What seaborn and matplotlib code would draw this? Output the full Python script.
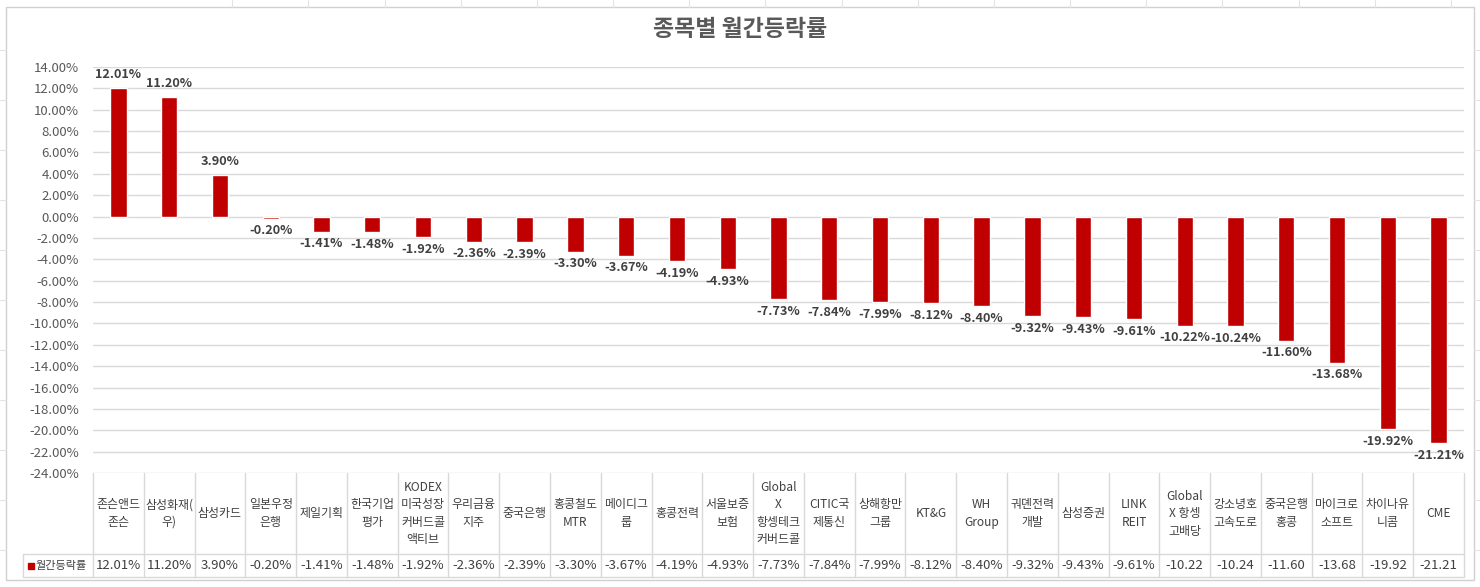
import numpy as np
import pandas as pd
import matplotlib
matplotlib.use("Agg")
import matplotlib.pyplot as plt
import seaborn as sns
from matplotlib.patches import Rectangle
from matplotlib.lines import Line2D

# ---------------- data ----------------
categories = ["존슨앤드\n존슨", "삼성화재(\n우)", "삼성카드", "일본우정\n은행", "제일기획",
              "한국기업\n평가", "KODEX\n미국성장\n커버드콜\n액티브", "우리금융\n지주", "중국은행",
              "홍콩철도\nMTR", "메이디그\n룹", "홍콩전력", "서울보증\n보험",
              "Global\nX\n항셍테크\n커버드콜", "CITIC국\n제통신", "상해항만\n그룹", "KT&G",
              "WH\nGroup", "궈뎬전력\n개발", "삼성증권", "LINK\nREIT", "Global\nX 항셍\n고배당",
              "강소녕호\n고속도로", "중국은행\n홍콩", "마이크로\n소프트", "차이나유\n니콤", "CME"]
values = [12.01, 11.20, 3.90, -0.20, -1.41, -1.48, -1.92, -2.36, -2.39, -3.30, -3.67, -4.19,
          -4.93, -7.73, -7.84, -7.99, -8.12, -8.40, -9.32, -9.43, -9.61, -10.22, -10.24,
          -11.60, -13.68, -19.92, -21.21]
table_labels = ["12.01%", "11.20%", "3.90%", "-0.20%", "-1.41%", "-1.48%", "-1.92%", "-2.36%",
                "-2.39%", "-3.30%", "-3.67%", "-4.19%", "-4.93%", "-7.73%", "-7.84%", "-7.99%",
                "-8.12%", "-8.40%", "-9.32%", "-9.43%", "-9.61%", "-10.22", "-10.24", "-11.60",
                "-13.68", "-19.92", "-21.21"]
series_name = "월간등락률"
title = "종목별 월간등락률"
y_ticks = list(range(-24, 15, 2))

# ---------------- style ----------------
sns.set_theme(style="white")
FONT = ["Noto Sans CJK KR", "DejaVu Sans"]
plt.rcParams["font.family"] = FONT

W, H = 1480, 587
fig = plt.figure(figsize=(W / 100, H / 100), dpi=100)
fig.patch.set_facecolor("white")

def fx(px):
    return px / W

def fy(py):
    return 1 - py / H

# spreadsheet-like background lines outside the chart frame
for xp in [232, 308, 385, 461, 537, 613, 689, 765, 842, 918, 994, 1070, 1146, 1222, 1299, 1375, 1451]:
    fig.add_artist(Line2D([fx(xp), fx(xp)], [fy(0), fy(7)], color="#e3e3e3", lw=0.8))
for yp in [50, 100, 150, 200, 250, 300, 350, 400, 450, 500, 550]:
    fig.add_artist(Line2D([fx(0), fx(6)], [fy(yp), fy(yp)], color="#e3e3e3", lw=0.8))
    fig.add_artist(Line2D([fx(1474), fx(1480)], [fy(yp), fy(yp)], color="#e3e3e3", lw=0.8))
# chart frame
fig.add_artist(Rectangle((fx(6), fy(580)), fx(1474) - fx(6), fy(7) - fy(580),
                         fill=False, edgecolor="#d0d0d0", lw=1.0))

# ---------------- main plot ----------------
L, R, T, B = 93, 1464, 67, 473
ax = fig.add_axes([fx(L), fy(B), fx(R) - fx(L), fy(T) - fy(B)])
df = pd.DataFrame({"cat": categories, "val": values})
sns.barplot(data=df, x="cat", y="val", color="#C00000", saturation=1, width=0.32, ax=ax)
ax.set_xlim(-0.5, len(categories) - 0.5)
ax.set_ylim(-24, 14)
ax.set_yticks(y_ticks)
ax.set_yticklabels([f"{t:.2f}%" for t in y_ticks], fontsize=9.5, color="#595959")
ax.tick_params(axis="y", length=0, pad=10)
ax.set_xticks([])
ax.set_xlabel("")
ax.set_ylabel("")
ax.grid(axis="y", color="#d9d9d9", lw=1)
ax.set_axisbelow(True)
for s in ax.spines.values():
    s.set_visible(False)

for i, v in enumerate(values):
    if v >= 0:
        ax.annotate(f"{v:.2f}%", (i, v), xytext=(0, 5), textcoords="offset points",
                    ha="center", va="bottom", fontsize=9.2, fontweight="bold", color="#404040")
    else:
        ax.annotate(f"{v:.2f}%", (i, v), xytext=(0, -4), textcoords="offset points",
                    ha="center", va="top", fontsize=9.2, fontweight="bold", color="#404040")

fig.text(fx(740), fy(30), title, ha="center", va="center", fontsize=16.5,
         fontweight="heavy", color="#595959")

# ---------------- data table ----------------
TB = 578
ax_t = fig.add_axes([fx(L), fy(TB), fx(R) - fx(L), fy(B) - fy(TB)])
n = len(categories)
ax_t.set_xlim(-0.5, n - 0.5)
ax_t.set_ylim(TB, B)
ax_t.axis("off")
per_px = n / (R - L)
leg_left = -0.5 - (L - 23) * per_px
lc = "#d9d9d9"
row_split = 554
row_bot = 577
for k in range(n + 1):
    ax_t.plot([k - 0.5, k - 0.5], [B, row_bot], color=lc, lw=1, clip_on=False)
ax_t.plot([leg_left, leg_left], [row_split, row_bot], color=lc, lw=1, clip_on=False)
ax_t.plot([leg_left, n - 0.5], [row_split, row_split], color=lc, lw=1, clip_on=False)
ax_t.plot([leg_left, n - 0.5], [row_bot, row_bot], color=lc, lw=1, clip_on=False)

for i, (c, lab) in enumerate(zip(categories, table_labels)):
    ax_t.text(i, (B + row_split) / 2, c, ha="center", va="center", fontsize=8.6,
              color="#404040", linespacing=1.45, clip_on=False)
    ax_t.text(i, (row_split + row_bot) / 2, lab, ha="center", va="center", fontsize=9.5,
              color="#404040", clip_on=False)

sq_x = -0.5 - (L - 30.5) * per_px
ax_t.plot([sq_x], [(row_split + row_bot) / 2], marker="s", ms=5, color="#C00000",
          clip_on=False, lw=0)
ax_t.text(-0.5 - (L - 36) * per_px, (row_split + row_bot) / 2, series_name, ha="left",
          va="center", fontsize=8, color="#404040", clip_on=False)

fig.savefig("out.png", dpi=100, facecolor="white")
